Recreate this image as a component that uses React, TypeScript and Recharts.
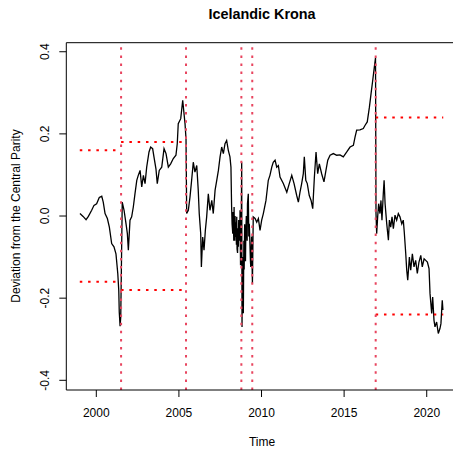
import { LineChart, Line, XAxis, YAxis, ReferenceLine } from "recharts";

const years = [
  1999.01, 1999.2, 1999.38, 1999.52, 1999.72, 1999.86, 2000.02, 2000.18, 2000.33, 2000.42,
  2000.53, 2000.67, 2000.79, 2000.93, 2001.07, 2001.19, 2001.3, 2001.36, 2001.39, 2001.44,
  2001.48, 2001.57, 2001.68, 2001.8, 2001.88, 2001.94, 2002.04, 2002.14, 2002.24, 2002.34,
  2002.45, 2002.54, 2002.65, 2002.75, 2002.85, 2002.95, 2003.05, 2003.19, 2003.29, 2003.41,
  2003.49, 2003.61, 2003.69, 2003.81, 2003.96, 2004.1, 2004.22, 2004.36, 2004.5, 2004.66,
  2004.82, 2004.9, 2004.96, 2005.11, 2005.23, 2005.31, 2005.37, 2005.43, 2005.47, 2005.57,
  2005.67, 2005.77, 2005.87, 2005.97, 2006.08, 2006.17, 2006.23, 2006.32, 2006.36, 2006.44,
  2006.52, 2006.6, 2006.68, 2006.78, 2006.88, 2006.99, 2007.08, 2007.19, 2007.29, 2007.39,
  2007.49, 2007.59, 2007.69, 2007.79, 2007.89, 2007.99, 2008.09, 2008.15, 2008.19, 2008.22,
  2008.26, 2008.28, 2008.3, 2008.32, 2008.34, 2008.36, 2008.38, 2008.4, 2008.42, 2008.44,
  2008.46, 2008.48, 2008.5, 2008.52, 2008.55, 2008.58, 2008.6, 2008.62, 2008.65, 2008.68,
  2008.7, 2008.73, 2008.76, 2008.8, 2008.82, 2008.84, 2008.86, 2008.88, 2008.9, 2008.93,
  2008.95, 2008.98, 2009.0, 2009.03, 2009.05, 2009.08, 2009.1, 2009.13, 2009.15, 2009.2,
  2009.23, 2009.26, 2009.3, 2009.33, 2009.35, 2009.4, 2009.45, 2009.5, 2009.61, 2009.71,
  2009.81, 2009.91, 2010.01, 2010.11, 2010.27, 2010.41, 2010.51, 2010.62, 2010.71, 2010.82,
  2010.92, 2011.02, 2011.12, 2011.32, 2011.53, 2011.68, 2011.83, 2011.97, 2012.13, 2012.23,
  2012.33, 2012.43, 2012.53, 2012.59, 2012.68, 2012.77, 2012.89, 2013.0, 2013.1, 2013.2,
  2013.3, 2013.4, 2013.5, 2013.64, 2013.78, 2013.9, 2014.01, 2014.15, 2014.35, 2014.55,
  2014.75, 2014.95, 2015.16, 2015.36, 2015.56, 2015.66, 2015.76, 2015.96, 2016.16, 2016.27,
  2016.4, 2016.53, 2016.63, 2016.73, 2016.83, 2016.9, 2016.93, 2016.97, 2017.03, 2017.09,
  2017.17, 2017.23, 2017.29, 2017.37, 2017.42, 2017.48, 2017.58, 2017.68, 2017.74, 2017.82,
  2017.9, 2017.98, 2018.08, 2018.18, 2018.28, 2018.38, 2018.49, 2018.58, 2018.64, 2018.73,
  2018.79, 2018.85, 2018.95, 2019.03, 2019.13, 2019.23, 2019.33, 2019.43, 2019.53, 2019.64,
  2019.73, 2019.84, 2019.94, 2020.04, 2020.14, 2020.2, 2020.3, 2020.36, 2020.44, 2020.5,
  2020.6, 2020.7, 2020.8, 2020.86, 2020.94, 2020.98,
];

const deviation = [
  0.006, -0.001, -0.009, -0.001, 0.014, 0.026, 0.03, 0.045, 0.048, 0.034,
  0.006, -0.006, -0.027, -0.067, -0.075, -0.092, -0.14, -0.181, -0.234, -0.268,
  -0.246, 0.034, 0.014, -0.019, -0.043, -0.083, -0.01, -0.002, 0.022, 0.054,
  0.087, 0.099, 0.111, 0.071, 0.099, 0.079, 0.119, 0.156, 0.168, 0.164,
  0.144, 0.115, 0.079, 0.111, 0.119, 0.164, 0.152, 0.119, 0.127, 0.14,
  0.148, 0.176, 0.225, 0.237, 0.282, 0.249, 0.225, 0.188, 0.006, 0.014,
  0.046, 0.087, 0.131, 0.107, 0.123, 0.063, 0.006, -0.043, -0.124, -0.051,
  -0.083, -0.035, -0.002, 0.054, 0.014, 0.038, 0.006, 0.063, 0.087, 0.111,
  0.144, 0.168, 0.152, 0.176, 0.184, 0.16, 0.144, 0.119, 0.022, -0.02,
  -0.043, 0.01, -0.01, -0.06, 0.022, -0.045, -0.06, 0.0, -0.051, -0.015,
  -0.02, -0.07, -0.002, -0.08, -0.09, -0.03, -0.075, -0.01, -0.03, -0.06,
  0.014, -0.12, -0.1, 0.131, -0.27, -0.15, -0.197, -0.1, -0.237, -0.06,
  -0.13, -0.02, -0.067, -0.11, -0.04, 0.0, -0.002, -0.06, 0.03, 0.054,
  -0.05, -0.019, -0.07, -0.11, -0.124, -0.05, -0.165, -0.002, -0.006, -0.015,
  -0.006, -0.035, -0.01, 0.006, 0.038, 0.087, 0.099, 0.119, 0.131, 0.136,
  0.119, 0.123, 0.095, 0.079, 0.058, 0.079, 0.099, 0.079, 0.05, 0.034,
  0.058, 0.079, 0.103, 0.144, 0.087, 0.079, 0.05, 0.038, 0.018, 0.095,
  0.156, 0.103, 0.127, 0.103, 0.083, 0.111, 0.136, 0.148, 0.152, 0.148,
  0.149, 0.144, 0.156, 0.168, 0.172, 0.192, 0.209, 0.21, 0.213, 0.221,
  0.229, 0.265, 0.298, 0.33, 0.363, 0.385, 0.006, -0.043, -0.002, 0.03,
  0.006, 0.038, -0.01, 0.054, 0.087, 0.03, -0.019, -0.059, -0.01, -0.027,
  -0.002, -0.031, 0.002, -0.01, 0.006, -0.002, -0.019, -0.01, -0.039, -0.092,
  -0.132, -0.156, -0.1, -0.132, -0.092, -0.124, -0.108, -0.14, -0.112, -0.096,
  -0.124, -0.104, -0.108, -0.112, -0.128, -0.189, -0.237, -0.197, -0.254, -0.27,
  -0.258, -0.286, -0.274, -0.262, -0.205, -0.229,
];

// regime breaks (vertical dotted lines)
const breakYears = [2001.5, 2005.43, 2008.78, 2009.44, 2016.91];

// fluctuation bands: start, end, half width
const bandStart = [1999.0, 2001.5, 2016.91];
const bandEnd = [2001.5, 2005.43, 2021.0];
const bandWidth = [0.16, 0.18, 0.24];

const xTicks = [2000, 2005, 2010, 2015, 2020];
const yTicks = [-0.4, -0.2, 0, 0.2, 0.4];
const xDomain = [1998.184, 2021.59];
const yDomain = [-0.4236, 0.422];

const data = years.map((t, i) => ({ t, v: deviation[i] }));

const font = "'Liberation Sans', Arial, sans-serif";

const YTick = ({ y, payload }: any) => (
  <text
    x={45}
    y={y}
    transform={`rotate(-90 45 ${y})`}
    textAnchor="middle"
    dominantBaseline="central"
    fontSize={12}
    fontFamily={font}
    fill="#000"
  >
    {Number(payload.value).toFixed(1)}
  </text>
);

export default function App() {
  return (
    <div style={{ position: "absolute", left: 0, top: 0, width: 453, height: 454, background: "#fff", fontFamily: font }}>
      <div
        style={{
          position: "absolute",
          left: 0,
          width: 524,
          top: 5,
          textAlign: "center",
          fontSize: 14.4,
          fontWeight: "bold",
          lineHeight: "18px",
          color: "#000",
        }}
      >
        Icelandic Krona
      </div>
      <LineChart
        width={453}
        height={454}
        data={data}
        margin={{ top: 42.7, right: 0, bottom: 0, left: 6.3 }}
      >
        <XAxis
          dataKey="t"
          type="number"
          domain={xDomain}
          allowDataOverflow
          ticks={xTicks}
          height={64}
          tickSize={7}
          tickMargin={11}
          stroke="#000"
          tick={{ fill: "#000", fontSize: 12, fontFamily: font }}
          label={{
            content: () => (
              <text x={262} y={442} textAnchor="middle" dominantBaseline="central" fontSize={12} fontFamily={font} fill="#000">
                Time
              </text>
            ),
          }}
        />
        <YAxis
          type="number"
          domain={yDomain}
          allowDataOverflow
          ticks={yTicks}
          width={60}
          tickSize={7}
          stroke="#000"
          tick={<YTick />}
          label={{
            content: () => (
              <text
                x={16}
                y={216}
                transform="rotate(-90 16 216)"
                textAnchor="middle"
                dominantBaseline="central"
                fontSize={12}
                fontFamily={font}
                fill="#000"
              >
                Deviation from the Central Parity
              </text>
            ),
          }}
        />
        <ReferenceLine y={yDomain[1]} stroke="#000" strokeWidth={1} />
        <Line
          dataKey="v"
          type="linear"
          stroke="#000"
          strokeWidth={1.3}
          dot={false}
          isAnimationActive={false}
        />
        {bandStart.map((s, i) => (
          <ReferenceLine
            key={`up${i}`}
            segment={[{ x: s, y: bandWidth[i] }, { x: bandEnd[i], y: bandWidth[i] }]}
            stroke="#ff0000"
            strokeWidth={2}
            strokeDasharray="2.5 5.8"
          />
        ))}
        {bandStart.map((s, i) => (
          <ReferenceLine
            key={`lo${i}`}
            segment={[{ x: s, y: -bandWidth[i] }, { x: bandEnd[i], y: -bandWidth[i] }]}
            stroke="#ff0000"
            strokeWidth={2}
            strokeDasharray="2.5 5.8"
          />
        ))}
        {breakYears.map((b) => (
          <ReferenceLine key={b} x={b} stroke="#e8455f" strokeWidth={2} strokeDasharray="2.5 5.6" />
        ))}
      </LineChart>
    </div>
  );
}
